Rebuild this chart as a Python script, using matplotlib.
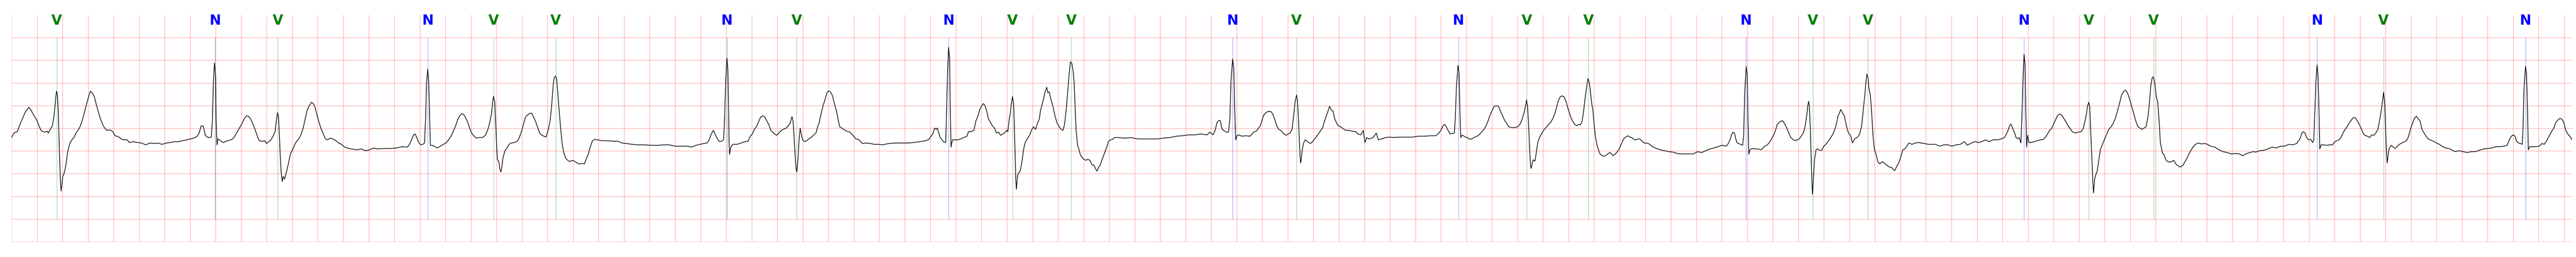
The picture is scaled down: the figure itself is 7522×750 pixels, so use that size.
import numpy as np
import matplotlib
matplotlib.use("Agg")
import matplotlib.pyplot as plt

# ECG strip: (time [s], amplitude [mV]) per ~2.5 s window
seg_00 = [
    (0.000, -0.20), (0.013, -0.12), (0.029, -0.08), (0.045, -0.07), (0.061, 0.06), (0.077, 0.17),
    (0.094, 0.28), (0.110, 0.38), (0.126, 0.43), (0.134, 0.47), (0.150, 0.41), (0.166, 0.33),
    (0.182, 0.25), (0.198, 0.18), (0.214, 0.06), (0.230, -0.04), (0.246, -0.07), (0.262, -0.08),
    (0.279, -0.06), (0.287, -0.10), (0.303, -0.02), (0.319, 0.06), (0.332, 0.28), (0.343, 0.59),
    (0.351, 0.82), (0.359, 0.75), (0.367, 0.22), (0.375, -0.57), (0.383, -1.23), (0.388, -1.38),
    (0.394, -1.23), (0.401, -1.05), (0.410, -1.00), (0.423, -0.84), (0.439, -0.52), (0.455, -0.33),
    (0.472, -0.25), (0.488, -0.20), (0.504, -0.10), (0.520, -0.04), (0.536, 0.04), (0.552, 0.17),
    (0.568, 0.33), (0.584, 0.51), (0.600, 0.67), (0.616, 0.82), (0.624, 0.81), (0.632, 0.78),
    (0.648, 0.70), (0.665, 0.51), (0.681, 0.35), (0.697, 0.20), (0.713, 0.09), (0.729, 0.01),
    (0.745, -0.04), (0.761, -0.03), (0.777, -0.04), (0.793, -0.07), (0.809, -0.16), (0.825, -0.17),
    (0.842, -0.19), (0.858, -0.23), (0.874, -0.25), (0.906, -0.25), (0.922, -0.31), (0.954, -0.29),
    (0.986, -0.31), (1.018, -0.32), (1.051, -0.36), (1.083, -0.32), (1.115, -0.33), (1.147, -0.32),
    (1.179, -0.35), (1.211, -0.32), (1.244, -0.31), (1.276, -0.29), (1.308, -0.29), (1.340, -0.27),
    (1.372, -0.25), (1.404, -0.23), (1.437, -0.20), (1.453, -0.17), (1.469, -0.10), (1.485, 0.06),
    (1.501, 0.05), (1.509, -0.04), (1.517, -0.15), (1.533, -0.19), (1.549, -0.20), (1.565, -0.19),
    (1.573, 0.22), (1.581, 1.02), (1.589, 1.44), (1.598, 1.15), (1.602, 0.22), (1.609, -0.36),
    (1.617, -0.23), (1.630, -0.25), (1.646, -0.29), (1.662, -0.31), (1.678, -0.28), (1.694, -0.27),
    (1.726, -0.24), (1.742, -0.20), (1.758, -0.12), (1.774, -0.04), (1.791, 0.04), (1.807, 0.12),
    (1.823, 0.22), (1.839, 0.28), (1.855, 0.27), (1.871, 0.22), (1.887, 0.12), (1.903, 0.01),
    (1.919, -0.12), (1.935, -0.25), (1.951, -0.28), (1.967, -0.28), (1.984, -0.27), (1.996, -0.33),
    (2.016, -0.29), (2.032, -0.25), (2.048, -0.17), (2.064, -0.07), (2.074, 0.17), (2.083, 0.35),
    (2.090, 0.28), (2.096, -0.04), (2.104, -0.57), (2.112, -0.97), (2.120, -1.17), (2.128, -1.05),
    (2.138, -1.12), (2.152, -0.97), (2.168, -0.78), (2.185, -0.55), (2.201, -0.47), (2.217, -0.36),
    (2.233, -0.28), (2.249, -0.23), (2.265, -0.15), (2.281, -0.02), (2.297, 0.17), (2.313, 0.38),
    (2.329, 0.49), (2.349, 0.58), (2.366, 0.54), (2.378, 0.46), (2.394, 0.28), (2.410, 0.12),
    (2.426, -0.02), (2.442, -0.12), (2.458, -0.23), (2.474, -0.25), (2.498, -0.21),
]
seg_01 = [
    (2.530, -0.25), (2.546, -0.28), (2.562, -0.32), (2.586, -0.35), (2.603, -0.40), (2.627, -0.43),
    (2.659, -0.45), (2.707, -0.47), (2.739, -0.45), (2.771, -0.49), (2.804, -0.47), (2.836, -0.43),
    (2.868, -0.45), (2.916, -0.44), (2.964, -0.44), (3.013, -0.43), (3.061, -0.40), (3.101, -0.41),
    (3.117, -0.35), (3.133, -0.25), (3.149, -0.14), (3.161, -0.12), (3.174, -0.20), (3.190, -0.31),
    (3.206, -0.36), (3.222, -0.35), (3.235, -0.32), (3.243, 0.22), (3.251, 1.02), (3.260, 1.31),
    (3.268, 1.02), (3.275, 0.22), (3.281, -0.37), (3.294, -0.37), (3.318, -0.40), (3.334, -0.43),
    (3.359, -0.39), (3.383, -0.35), (3.407, -0.31), (3.423, -0.25), (3.447, -0.15), (3.463, -0.04),
    (3.479, 0.06), (3.495, 0.20), (3.511, 0.28), (3.527, 0.33), (3.544, 0.30), (3.560, 0.22),
    (3.576, 0.12), (3.592, -0.02), (3.608, -0.12), (3.624, -0.17), (3.640, -0.21), (3.664, -0.20),
    (3.688, -0.20), (3.712, -0.15), (3.729, -0.04), (3.745, 0.12), (3.761, 0.35), (3.769, 0.59),
    (3.775, 0.71), (3.785, 0.59), (3.793, 0.09), (3.801, -0.44), (3.806, -0.69), (3.817, -0.73),
    (3.825, -0.89), (3.833, -0.96), (3.841, -0.84), (3.849, -0.65), (3.865, -0.49), (3.881, -0.43),
    (3.897, -0.35), (3.913, -0.32), (3.938, -0.31), (3.962, -0.28), (3.978, -0.20), (3.994, -0.07),
    (4.010, 0.09), (4.026, 0.25), (4.042, 0.30), (4.058, 0.33), (4.074, 0.34), (4.090, 0.25),
    (4.107, 0.14), (4.123, 0.01), (4.139, -0.11), (4.155, -0.15), (4.171, -0.17), (4.187, -0.19),
    (4.203, -0.04), (4.219, 0.17), (4.232, 0.54), (4.243, 0.96), (4.251, 1.12), (4.263, 1.16),
    (4.271, 1.07), (4.280, 0.75), (4.291, 0.35), (4.303, -0.04), (4.312, -0.31), (4.324, -0.51),
    (4.340, -0.65), (4.356, -0.70), (4.372, -0.73), (4.396, -0.70), (4.420, -0.74), (4.444, -0.78),
    (4.468, -0.77), (4.488, -0.78), (4.501, -0.68), (4.517, -0.57), (4.533, -0.41), (4.549, -0.28),
    (4.565, -0.24), (4.589, -0.25), (4.629, -0.27), (4.669, -0.27), (4.710, -0.28), (4.750, -0.28),
    (4.782, -0.32), (4.814, -0.33), (4.863, -0.35), (4.911, -0.36), (4.959, -0.36), (5.007, -0.37),
]
seg_02 = [
    (5.039, -0.37), (5.071, -0.37), (5.104, -0.36), (5.152, -0.36), (5.200, -0.39), (5.248, -0.39),
    (5.297, -0.39), (5.329, -0.41), (5.361, -0.37), (5.393, -0.35), (5.425, -0.33), (5.449, -0.32),
    (5.465, -0.25), (5.482, -0.12), (5.498, -0.04), (5.514, -0.14), (5.530, -0.23), (5.546, -0.29),
    (5.562, -0.28), (5.578, -0.25), (5.586, 0.22), (5.594, 1.02), (5.604, 1.55), (5.612, 1.28),
    (5.617, 0.49), (5.621, -0.31), (5.625, -0.57), (5.634, -0.41), (5.650, -0.35), (5.683, -0.35),
    (5.715, -0.32), (5.747, -0.29), (5.771, -0.28), (5.787, -0.17), (5.803, -0.12), (5.819, -0.02),
    (5.835, 0.04), (5.851, 0.14), (5.868, 0.25), (5.884, 0.28), (5.900, 0.26), (5.916, 0.17),
    (5.932, 0.09), (5.948, -0.04), (5.972, -0.11), (5.996, -0.15), (6.020, -0.07), (6.044, -0.02),
    (6.069, 0.01), (6.085, 0.06), (6.101, 0.13), (6.114, 0.26), (6.122, 0.17), (6.130, -0.17),
    (6.138, -0.57), (6.146, -0.89), (6.152, -0.96), (6.160, -0.70), (6.168, -0.31), (6.178, 0.01),
    (6.186, -0.12), (6.197, -0.25), (6.213, -0.29), (6.229, -0.27), (6.246, -0.23), (6.262, -0.20),
    (6.286, -0.14), (6.302, -0.10), (6.315, 0.04), (6.326, 0.12), (6.342, 0.33), (6.358, 0.51),
    (6.374, 0.65), (6.387, 0.78), (6.400, 0.83), (6.414, 0.81), (6.430, 0.73), (6.447, 0.54),
    (6.463, 0.38), (6.474, 0.22), (6.487, 0.04), (6.503, 0.01), (6.519, -0.02), (6.543, -0.06),
    (6.567, -0.08), (6.591, -0.15), (6.616, -0.23), (6.640, -0.25), (6.664, -0.33), (6.696, -0.32),
    (6.728, -0.33), (6.760, -0.35), (6.792, -0.35), (6.825, -0.36), (6.873, -0.33), (6.921, -0.32),
    (6.969, -0.32), (7.018, -0.32), (7.066, -0.31), (7.114, -0.29), (7.162, -0.27), (7.186, -0.24),
    (7.203, -0.17), (7.219, -0.11), (7.231, 0.01), (7.243, -0.02), (7.252, 0.01), (7.262, -0.08),
    (7.275, -0.20), (7.288, -0.24), (7.299, -0.29), (7.318, -0.31), (7.326, 0.49), (7.333, 1.28),
    (7.341, 1.79), (7.349, 1.55), (7.354, 0.49), (7.360, -0.41), (7.371, -0.25), (7.388, -0.25),
    (7.412, -0.25), (7.436, -0.23), (7.460, -0.20), (7.484, -0.17), (7.497, -0.07), (7.516, -0.07),
]
seg_03 = [
    (7.539, -0.04), (7.547, 0.06), (7.555, 0.17), (7.571, 0.28), (7.587, 0.43), (7.603, 0.51),
    (7.615, 0.55), (7.628, 0.49), (7.640, 0.38), (7.652, 0.22), (7.668, 0.14), (7.684, 0.06),
    (7.700, 0.01), (7.716, -0.10), (7.732, -0.08), (7.748, -0.15), (7.764, -0.12), (7.780, -0.10),
    (7.796, -0.04), (7.805, -0.07), (7.814, 0.17), (7.824, 0.33), (7.832, 0.54), (7.842, 0.70),
    (7.850, 0.54), (7.856, 0.09), (7.862, -0.57), (7.867, -1.10), (7.872, -1.34), (7.879, -1.10),
    (7.885, -1.00), (7.893, -0.97), (7.901, -0.94), (7.909, -0.84), (7.917, -0.70), (7.930, -0.44),
    (7.941, -0.31), (7.957, -0.23), (7.973, -0.16), (7.990, -0.04), (8.006, 0.04), (8.022, -0.02),
    (8.038, 0.12), (8.051, 0.20), (8.062, 0.41), (8.070, 0.49), (8.086, 0.67), (8.097, 0.81),
    (8.110, 0.91), (8.118, 0.79), (8.129, 0.81), (8.142, 0.65), (8.158, 0.49), (8.174, 0.28),
    (8.191, 0.12), (8.207, 0.04), (8.223, -0.02), (8.236, -0.04), (8.247, 0.06), (8.255, 0.22),
    (8.263, 0.43), (8.274, 0.81), (8.284, 1.15), (8.295, 1.47), (8.306, 1.44), (8.316, 1.28),
    (8.324, 1.04), (8.332, 0.49), (8.340, -0.04), (8.351, -0.36), (8.363, -0.47), (8.372, -0.57),
    (8.384, -0.63), (8.400, -0.68), (8.416, -0.70), (8.432, -0.68), (8.448, -0.70), (8.464, -0.80),
    (8.480, -0.81), (8.493, -0.89), (8.504, -0.94), (8.515, -0.86), (8.528, -0.81), (8.544, -0.68),
    (8.561, -0.55), (8.577, -0.44), (8.593, -0.29), (8.609, -0.25), (8.625, -0.24), (8.641, -0.20),
    (8.673, -0.20), (8.705, -0.21), (8.737, -0.21), (8.770, -0.20), (8.802, -0.22), (8.834, -0.23),
    (8.882, -0.23), (8.930, -0.23), (8.979, -0.23), (9.027, -0.21), (9.075, -0.20), (9.124, -0.17),
    (9.172, -0.16), (9.220, -0.14), (9.268, -0.14), (9.317, -0.12), (9.365, -0.14), (9.389, -0.08),
    (9.413, -0.14), (9.429, -0.04), (9.445, 0.14), (9.456, 0.17), (9.469, 0.18), (9.481, 0.01),
    (9.493, -0.04), (9.518, -0.08), (9.534, -0.08), (9.545, 0.22), (9.553, 1.02), (9.566, 1.53),
    (9.575, 1.34), (9.582, 0.49), (9.590, -0.25), (9.600, -0.16), (9.614, -0.14), (9.638, -0.17),
    (9.670, -0.16), (9.703, -0.17), (9.719, -0.12), (9.735, -0.07), (9.751, -0.06), (9.767, 0.00),
    (9.783, 0.06), (9.796, 0.17), (9.807, 0.28), (9.823, 0.34), (9.839, 0.37), (9.863, 0.38),
    (9.879, 0.33), (9.896, 0.20), (9.912, 0.06), (9.928, -0.02), (9.944, -0.04), (9.960, -0.10),
    (9.984, -0.15), (10.000, -0.12), (10.016, -0.10), (10.032, -0.02),
]
seg_04 = [
    (10.048, 0.38), (10.056, 0.59), (10.067, 0.74), (10.075, 0.59), (10.084, 0.09), (10.092, -0.44),
    (10.098, -0.76), (10.104, -0.68), (10.112, -0.47), (10.121, -0.33), (10.129, -0.28), (10.137, -0.25),
    (10.153, -0.29), (10.177, -0.33), (10.193, -0.29), (10.209, -0.23), (10.225, -0.17), (10.241, -0.11),
    (10.257, -0.04), (10.273, 0.02), (10.281, 0.12), (10.297, 0.25), (10.310, 0.35), (10.326, 0.49),
    (10.338, 0.41), (10.354, 0.38), (10.365, 0.22), (10.381, 0.12), (10.394, 0.06), (10.410, 0.04),
    (10.426, 0.01), (10.450, -0.04), (10.474, -0.04), (10.507, -0.06), (10.531, -0.07), (10.547, -0.12),
    (10.571, -0.14), (10.590, -0.04), (10.603, -0.31), (10.616, -0.20), (10.635, -0.23), (10.667, -0.20),
    (10.692, -0.10), (10.708, -0.25), (10.732, -0.23), (10.764, -0.20), (10.796, -0.19), (10.828, -0.20),
    (10.877, -0.19), (10.925, -0.19), (10.973, -0.19), (11.021, -0.17), (11.070, -0.17), (11.118, -0.16),
    (11.158, -0.16), (11.179, -0.11), (11.198, -0.04), (11.214, 0.06), (11.227, 0.09), (11.238, 0.05),
    (11.254, -0.04), (11.271, -0.12), (11.287, -0.11), (11.303, -0.10), (11.311, 0.22), (11.319, 0.88),
    (11.332, 1.39), (11.340, 1.23), (11.346, 0.49), (11.354, -0.20), (11.362, -0.15), (11.375, -0.16),
    (11.391, -0.19), (11.407, -0.20), (11.423, -0.24), (11.439, -0.23), (11.464, -0.19), (11.488, -0.16),
    (11.504, -0.12), (11.520, -0.07), (11.536, -0.02), (11.552, 0.06), (11.568, 0.17), (11.581, 0.28),
    (11.597, 0.38), (11.616, 0.49), (11.633, 0.50), (11.649, 0.49), (11.665, 0.38), (11.681, 0.28),
    (11.697, 0.18), (11.713, 0.12), (11.729, 0.04), (11.753, 0.02), (11.777, 0.02), (11.801, 0.04),
    (11.817, 0.09), (11.834, 0.20), (11.850, 0.35), (11.861, 0.49), (11.869, 0.63), (11.877, 0.49),
    (11.885, 0.09), (11.893, -0.44), (11.901, -0.84), (11.906, -0.88), (11.914, -0.76), (11.922, -0.69),
    (11.935, -0.72), (11.946, -0.52), (11.957, -0.31), (11.970, -0.20), (11.986, -0.12), (12.002, -0.04),
    (12.019, 0.01), (12.043, 0.09), (12.059, 0.14), (12.075, 0.22), (12.091, 0.33), (12.107, 0.49),
    (12.115, 0.59), (12.131, 0.69), (12.147, 0.72), (12.163, 0.70), (12.179, 0.59), (12.195, 0.43),
    (12.212, 0.28), (12.228, 0.17), (12.244, 0.10), (12.260, 0.06), (12.276, 0.09), (12.292, 0.08),
    (12.305, 0.17), (12.316, 0.38), (12.327, 0.65), (12.340, 0.91), (12.350, 1.10), (12.360, 1.02),
    (12.369, 0.83), (12.380, 0.54), (12.388, 0.43), (12.396, 0.17), (12.408, -0.17), (12.421, -0.36),
    (12.432, -0.47), (12.445, -0.56), (12.461, -0.60), (12.477, -0.61), (12.493, -0.59), (12.509, -0.55),
    (12.525, -0.53), (12.546, -0.60),
]
seg_05 = [
    (12.565, -0.56), (12.581, -0.51), (12.597, -0.44), (12.613, -0.33), (12.630, -0.23), (12.646, -0.19),
    (12.662, -0.16), (12.678, -0.19), (12.694, -0.20), (12.710, -0.24), (12.726, -0.25), (12.742, -0.23),
    (12.758, -0.23), (12.774, -0.28), (12.790, -0.32), (12.806, -0.32), (12.823, -0.33), (12.839, -0.36),
    (12.855, -0.40), (12.887, -0.44), (12.919, -0.47), (12.951, -0.49), (12.983, -0.51), (13.016, -0.52),
    (13.048, -0.55), (13.080, -0.56), (13.128, -0.56), (13.176, -0.56), (13.209, -0.51), (13.241, -0.53),
    (13.273, -0.49), (13.305, -0.45), (13.337, -0.43), (13.369, -0.40), (13.402, -0.37), (13.434, -0.39),
    (13.450, -0.33), (13.463, -0.25), (13.474, -0.15), (13.485, -0.08), (13.498, -0.10), (13.506, -0.20),
    (13.517, -0.31), (13.530, -0.33), (13.546, -0.35), (13.562, -0.37), (13.570, -0.17), (13.578, 0.75),
    (13.590, 1.37), (13.598, 1.18), (13.604, 0.22), (13.611, -0.57), (13.619, -0.47), (13.635, -0.44),
    (13.659, -0.45), (13.683, -0.45), (13.707, -0.47), (13.731, -0.40), (13.755, -0.36), (13.772, -0.31),
    (13.788, -0.23), (13.804, -0.15), (13.820, -0.04), (13.833, 0.09), (13.844, 0.12), (13.860, 0.16),
    (13.876, 0.17), (13.892, 0.10), (13.908, 0.01), (13.924, -0.10), (13.940, -0.20), (13.956, -0.24),
    (13.973, -0.27), (13.989, -0.25), (14.005, -0.23), (14.021, -0.17), (14.037, -0.10), (14.053, 0.06),
    (14.064, 0.28), (14.072, 0.49), (14.079, 0.60), (14.085, 0.49), (14.093, -0.04), (14.101, -0.84),
    (14.109, -1.45), (14.117, -1.10), (14.125, -0.70), (14.137, -0.47), (14.150, -0.45), (14.166, -0.48),
    (14.182, -0.48), (14.198, -0.39), (14.214, -0.35), (14.230, -0.29), (14.246, -0.23), (14.262, -0.16),
    (14.278, -0.07), (14.294, 0.06), (14.310, 0.28), (14.322, 0.35), (14.331, 0.42), (14.343, 0.35),
    (14.359, 0.28), (14.375, 0.06), (14.391, -0.10), (14.407, -0.15), (14.423, -0.32), (14.439, -0.23),
    (14.463, -0.19), (14.479, -0.12), (14.495, 0.06), (14.508, 0.43), (14.520, 0.75), (14.528, 1.02),
    (14.536, 1.20), (14.544, 1.12), (14.552, 0.88), (14.563, 0.73), (14.573, 0.35), (14.584, -0.17),
    (14.595, -0.47), (14.608, -0.57), (14.621, -0.73), (14.637, -0.78), (14.656, -0.73), (14.680, -0.78),
    (14.705, -0.84), (14.729, -0.86), (14.753, -0.93), (14.769, -0.84), (14.785, -0.76), (14.801, -0.63),
    (14.817, -0.47), (14.833, -0.45), (14.849, -0.39), (14.865, -0.32), (14.889, -0.35), (14.914, -0.32),
    (14.938, -0.31), (14.962, -0.32), (14.986, -0.33), (15.018, -0.35), (15.050, -0.35),
]
seg_06 = [
    (15.074, -0.35), (15.106, -0.39), (15.139, -0.36), (15.171, -0.36), (15.203, -0.39), (15.235, -0.36),
    (15.267, -0.35), (15.299, -0.29), (15.323, -0.37), (15.348, -0.33), (15.380, -0.29), (15.412, -0.31),
    (15.444, -0.28), (15.468, -0.25), (15.492, -0.29), (15.525, -0.25), (15.557, -0.25), (15.589, -0.23),
    (15.613, -0.20), (15.629, -0.12), (15.645, -0.02), (15.653, 0.06), (15.664, 0.10), (15.677, 0.01),
    (15.693, -0.10), (15.705, -0.20), (15.718, -0.23), (15.730, -0.20), (15.742, -0.32), (15.750, 0.22),
    (15.758, 1.02), (15.767, 1.64), (15.775, 1.41), (15.780, 0.49), (15.787, -0.41), (15.795, -0.15),
    (15.806, -0.31), (15.822, -0.31), (15.846, -0.29), (15.870, -0.27), (15.895, -0.25), (15.919, -0.24),
    (15.935, -0.19), (15.951, -0.12), (15.967, -0.04), (15.983, 0.00), (15.999, 0.10), (16.015, 0.20),
    (16.031, 0.29), (16.047, 0.32), (16.063, 0.29), (16.079, 0.22), (16.096, 0.14), (16.112, 0.06),
    (16.128, 0.00), (16.144, -0.07), (16.168, -0.10), (16.192, -0.08), (16.216, -0.07), (16.232, 0.01),
    (16.245, 0.17), (16.256, 0.33), (16.264, 0.49), (16.274, 0.58), (16.281, 0.49), (16.289, -0.04),
    (16.297, -0.57), (16.305, -1.10), (16.311, -1.42), (16.321, -1.10), (16.329, -1.02), (16.340, -0.94),
    (16.353, -0.70), (16.364, -0.47), (16.380, -0.36), (16.396, -0.25), (16.412, -0.14), (16.429, -0.03),
    (16.449, 0.04), (16.466, 0.12), (16.482, 0.22), (16.498, 0.38), (16.514, 0.54), (16.530, 0.73),
    (16.546, 0.81), (16.562, 0.85), (16.578, 0.78), (16.594, 0.65), (16.610, 0.49), (16.626, 0.33),
    (16.642, 0.17), (16.659, 0.04), (16.675, 0.01), (16.691, -0.02), (16.707, 0.01), (16.723, 0.04),
    (16.739, 0.28), (16.750, 0.59), (16.760, 0.94), (16.771, 1.12), (16.779, 1.14), (16.790, 1.02),
    (16.803, 0.70), (16.814, 0.59), (16.824, 0.22), (16.835, -0.31), (16.852, -0.55), (16.863, -0.57),
    (16.876, -0.68), (16.892, -0.73), (16.908, -0.74), (16.924, -0.73), (16.940, -0.70), (16.956, -0.78),
    (16.972, -0.82), (16.991, -0.85), (17.012, -0.81), (17.028, -0.73), (17.045, -0.65), (17.061, -0.55),
    (17.077, -0.47), (17.093, -0.40), (17.109, -0.35), (17.133, -0.32), (17.157, -0.34), (17.181, -0.33),
    (17.205, -0.35), (17.230, -0.39), (17.262, -0.41), (17.294, -0.47), (17.326, -0.51), (17.358, -0.53),
    (17.390, -0.56), (17.423, -0.55), (17.455, -0.56), (17.479, -0.60), (17.503, -0.56), (17.535, -0.53),
]
seg_07 = [
    (17.566, -0.51), (17.582, -0.52), (17.614, -0.49), (17.647, -0.48), (17.679, -0.45), (17.711, -0.41),
    (17.743, -0.43), (17.775, -0.39), (17.807, -0.39), (17.840, -0.35), (17.872, -0.36), (17.904, -0.33),
    (17.928, -0.23), (17.944, -0.10), (17.955, -0.07), (17.968, -0.10), (17.981, -0.20), (17.997, -0.25),
    (18.013, -0.24), (18.029, -0.31), (18.037, -0.25), (18.045, 0.35), (18.053, 1.02), (18.063, 1.40),
    (18.071, 1.15), (18.078, 0.35), (18.084, -0.45), (18.094, -0.36), (18.113, -0.36), (18.137, -0.37),
    (18.161, -0.36), (18.185, -0.36), (18.201, -0.29), (18.218, -0.27), (18.234, -0.25), (18.250, -0.20),
    (18.266, -0.10), (18.282, -0.02), (18.298, 0.04), (18.314, 0.12), (18.330, 0.18), (18.346, 0.24),
    (18.362, 0.24), (18.378, 0.17), (18.394, 0.09), (18.411, -0.02), (18.427, -0.12), (18.443, -0.16),
    (18.459, -0.17), (18.475, -0.20), (18.491, -0.14), (18.507, -0.15), (18.523, -0.10), (18.539, -0.02),
    (18.550, 0.14), (18.563, 0.35), (18.575, 0.59), (18.584, 0.80), (18.592, 0.59), (18.599, 0.09),
    (18.605, -0.44), (18.612, -0.76), (18.620, -0.57), (18.628, -0.44), (18.644, -0.37), (18.660, -0.41),
    (18.676, -0.44), (18.692, -0.39), (18.708, -0.35), (18.732, -0.31), (18.756, -0.28), (18.772, -0.23),
    (18.785, -0.12), (18.797, 0.01), (18.813, 0.14), (18.829, 0.24), (18.842, 0.27), (18.853, 0.22),
    (18.869, 0.17), (18.885, -0.02), (18.901, -0.10), (18.917, -0.17), (18.933, -0.23), (18.949, -0.25),
    (18.974, -0.28), (18.998, -0.32), (19.022, -0.35), (19.046, -0.40), (19.070, -0.43), (19.094, -0.44),
    (19.118, -0.47), (19.142, -0.51), (19.175, -0.49), (19.207, -0.51), (19.239, -0.53), (19.271, -0.51),
    (19.303, -0.51), (19.335, -0.48), (19.368, -0.45), (19.400, -0.44), (19.432, -0.43), (19.464, -0.40),
    (19.496, -0.40), (19.528, -0.39), (19.553, -0.37), (19.569, -0.25), (19.585, -0.17), (19.601, -0.14),
    (19.614, -0.17), (19.625, -0.28), (19.641, -0.32), (19.657, -0.33), (19.670, -0.35), (19.676, -0.04),
    (19.684, 0.88), (19.696, 1.37), (19.704, 1.20), (19.712, 0.35), (19.718, -0.47), (19.729, -0.40),
    (19.754, -0.40), (19.778, -0.40), (19.802, -0.39), (19.826, -0.33), (19.842, -0.35), (19.858, -0.29),
    (19.874, -0.20), (19.890, -0.12), (19.906, -0.04), (19.918, 0.01), (19.931, 0.12), (19.947, 0.18),
    (19.963, 0.22), (19.979, 0.21), (19.995, 0.14), (20.011, -0.04), (20.027, -0.12), (20.043, -0.17),
    (20.059, -0.24),
]

# beat annotations
ann_time = [0.353, 1.593, 2.085, 3.260, 3.777, 4.263, 5.604, 6.151, 7.341, 7.842, 8.303, 9.566,
            10.066, 11.335, 11.871, 12.353, 13.588, 14.113, 14.544, 15.767, 16.274, 16.782,
            18.062, 18.583, 19.696]
ann_sym = ["V", "N", "V", "N", "V", "V", "N", "V", "N", "V", "V", "N",
           "V", "N", "V", "V", "N", "V", "V", "N", "V", "V",
           "N", "V", "N"]
sym_color = {"N": "blue", "V": "green"}

T_END = 20.062

segments = [seg_00, seg_01, seg_02, seg_03, seg_04, seg_05, seg_06, seg_07]
trace = np.array([p for seg in segments for p in seg])

fig = plt.figure(figsize=(75.22, 7.5), dpi=100)
ax = fig.add_axes([0.00452, 0.05867, 0.99402, 0.88267])

ax.set_xlim(0, T_END)
ax.set_ylim(-2.5, 2.5)
ax.set_xticks(np.arange(0, T_END, 0.2))
ax.set_yticks(np.arange(-2.5, 2.49, 0.5))
ax.grid(True, color="red", alpha=0.25, linewidth=1.5)
ax.set_axisbelow(True)
ax.tick_params(length=0, labelbottom=False, labelleft=False)
for sp in ax.spines.values():
    sp.set_visible(False)

for t, sym in zip(ann_time, ann_sym):
    c = sym_color[sym]
    ax.vlines(t, -2.0, 2.0, color=c, linewidth=0.8, alpha=0.5, zorder=2)
    ax.text(t, 2.29, sym, color=c, ha="center", va="baseline", fontsize=29,
            fontweight="bold", family=["Liberation Sans Narrow", "DejaVu Sans"], zorder=4)

ax.plot(trace[:, 0], trace[:, 1], color="black", linewidth=1.4, zorder=3)

fig.savefig("out.png", dpi=100)
